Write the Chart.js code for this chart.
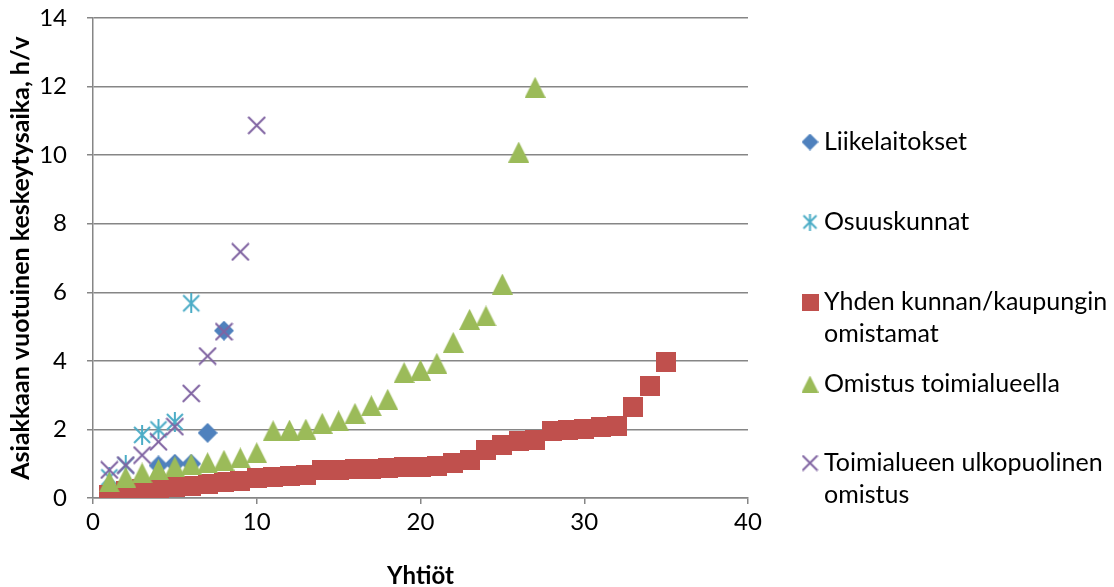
<!DOCTYPE html>
<html>
<head>
<meta charset="utf-8">
<script src="https://cdn.jsdelivr.net/npm/chart.js@4"></script>
<style>
  html, body { margin: 0; padding: 0; background: #fff; }
  #wrap { width: 1114px; height: 587px; position: relative; }
</style>
</head>
<body>
<div id="wrap"><canvas id="chart"></canvas></div>
<script>
// sarjojen nimet (selite)
const seriesNames = [
  'Liikelaitokset',
  'Osuuskunnat',
  'Yhden kunnan/kaupungin omistamat',
  'Omistus toimialueella',
  'Toimialueen ulkopuolinen omistus'
];

// akselit
const xTicks = [0, 10, 20, 30, 40];
const yTicks = [0, 2, 4, 6, 8, 10, 12, 14];

// Liikelaitokset
const liikeX = [4, 5, 6, 7, 8];
const liikeY = [0.95, 1.0, 1.0, 1.9, 4.88];

// Osuuskunnat
const osuusX = [1, 2, 3, 4, 5, 6];
const osuusY = [0.6, 0.95, 1.84, 2.0, 2.22, 5.68];

// Yhden kunnan/kaupungin omistamat
const kuntaY = [0.1, 0.2, 0.25, 0.28, 0.32, 0.36, 0.4, 0.48, 0.5, 0.58,
                0.62, 0.63, 0.67, 0.82, 0.83, 0.85, 0.86, 0.88, 0.9, 0.9,
                0.93, 1.02, 1.12, 1.4, 1.55, 1.66, 1.69, 1.95, 1.98, 2.0,
                2.07, 2.1, 2.65, 3.27, 3.96];

// Omistus toimialueella
const alueY = [0.47, 0.61, 0.73, 0.83, 0.91, 0.99, 1.03, 1.1, 1.17, 1.32,
               1.96, 1.98, 2.01, 2.18, 2.25, 2.47, 2.69, 2.88, 3.66, 3.73,
               3.93, 4.54, 5.21, 5.31, 6.24, 10.09, 11.98];

// Toimialueen ulkopuolinen omistus
const ulkoY = [0.82, 0.96, 1.25, 1.64, 2.08, 3.05, 4.14, 4.85, 7.18, 10.87];

const FONT = 'Lato, "Open Sans", sans-serif';
const GRID = '#868686';

// yhtiöt numeroidaan 1..n
const ranked = ys => ys.map((y, i) => ({ x: i + 1, y }));
const paired = (xs, ys) => xs.map((x, i) => ({ x, y: ys[i] }));

// Excel-tyyliset merkit pieninä canvaksina
function marker(kind, color, size) {
  const c = document.createElement('canvas');
  c.width = size; c.height = size;
  const g = c.getContext('2d');
  const m = size / 2;
  g.fillStyle = color;
  g.strokeStyle = color;
  g.lineWidth = 2;
  g.beginPath();
  if (kind === 'diamond') {
    g.moveTo(m, 0); g.lineTo(size, m); g.lineTo(m, size); g.lineTo(0, m);
    g.closePath(); g.fill();
  } else if (kind === 'square') {
    g.fillRect(0, 0, size, size);
  } else if (kind === 'triangle') {
    g.moveTo(m, 0); g.lineTo(size, size); g.lineTo(0, size);
    g.closePath(); g.fill();
  } else if (kind === 'x') {
    g.moveTo(1, 1); g.lineTo(size - 1, size - 1);
    g.moveTo(size - 1, 1); g.lineTo(1, size - 1);
    g.stroke();
  } else if (kind === 'asterisk') {
    g.moveTo(2, 2); g.lineTo(size - 2, size - 2);
    g.moveTo(size - 2, 2); g.lineTo(2, size - 2);
    g.moveTo(m, 0); g.lineTo(m, size);
    g.stroke();
  }
  return c;
}

const styles = [
  { kind: 'diamond',  color: '#4F81BD' },
  { kind: 'asterisk', color: '#4BACC6' },
  { kind: 'square',   color: '#C0504D' },
  { kind: 'triangle', color: '#9BBB59' },
  { kind: 'x',        color: '#8064A2' }
];

const chartMarkers = [
  marker('diamond', '#4F81BD', 20),
  marker('asterisk', '#4BACC6', 20),
  marker('square', '#C0504D', 20),
  marker('triangle', '#9BBB59', 21),
  marker('x', '#8064A2', 19)
];
const legendMarkers = styles.map(s => marker(s.kind, s.color, 17));

const dataSets = [
  paired(liikeX, liikeY),
  paired(osuusX, osuusY),
  ranked(kuntaY),
  ranked(alueY),
  ranked(ulkoY)
];

// oikean reunan selite, rivitys kuten alkuperäisessä
const sideLegend = {
  id: 'sideLegend',
  afterDraw(chart) {
    const ctx = chart.ctx;
    const rows = [
      { lines: ['Liikelaitokset'], y: 142 },
      { lines: ['Osuuskunnat'], y: 222 },
      { lines: ['Yhden kunnan/kaupungin', 'omistamat'], y: 302 },
      { lines: ['Omistus toimialueella'], y: 384 },
      { lines: ['Toimialueen ulkopuolinen', 'omistus'], y: 463 }
    ];
    ctx.save();
    ctx.font = '25px ' + FONT;
    ctx.fillStyle = '#000';
    ctx.textBaseline = 'middle';
    ctx.textAlign = 'left';
    rows.forEach((r, i) => {
      const m = legendMarkers[i];
      ctx.drawImage(m, 810 - m.width / 2, r.y - m.height / 2);
      r.lines.forEach((t, j) => ctx.fillText(t, 824, r.y + j * 32));
    });
    ctx.restore();
  }
};

new Chart(document.getElementById('chart'), {
  type: 'scatter',
  data: {
    datasets: dataSets.map((d, i) => ({
      label: seriesNames[i],
      data: d,
      pointStyle: chartMarkers[i],
      order: 5 - i
    }))
  },
  options: {
    responsive: true,
    maintainAspectRatio: false,
    animation: false,
    events: [],
    layout: { padding: { left: 0, top: 18, right: 366, bottom: -4 } },
    plugins: { legend: { display: false }, tooltip: { enabled: false } },
    scales: {
      x: {
        type: 'linear',
        min: xTicks[0],
        max: xTicks[xTicks.length - 1],
        afterBuildTicks: s => { s.ticks = xTicks.map(v => ({ value: v })); },
        afterFit: s => { s.height = 93; },
        ticks: { font: { family: FONT, size: 24 }, color: '#000', padding: 4 },
        grid: { drawOnChartArea: false, tickLength: 6, color: GRID, lineWidth: 1.5 },
        border: { color: GRID, width: 1.5 },
        title: {
          display: true, text: 'Yhtiöt', color: '#000',
          font: { family: FONT, size: 24, weight: 'bold' },
          padding: { top: 0, bottom: 0 }
        }
      },
      y: {
        type: 'linear',
        min: yTicks[0],
        max: yTicks[yTicks.length - 1],
        afterBuildTicks: s => { s.ticks = yTicks.map(v => ({ value: v })); },
        // leveys kiinteäksi, eikä tikkien väli kasvata ylä-/alareunaa
        afterFit: s => { s.width = 93; s.paddingTop = 0; s.paddingBottom = 0; },
        ticks: { font: { family: FONT, size: 24 }, color: '#000', padding: 20 },
        grid: { color: GRID, lineWidth: 1.5, tickLength: 6 },
        border: { color: GRID, width: 1.5 },
        title: {
          display: true, text: 'Asiakkaan vuotuinen keskeytysaika, h/v', color: '#000',
          font: { family: FONT, size: 25, weight: 'bold' },
          padding: { top: 6, bottom: 0 }
        }
      }
    }
  },
  plugins: [sideLegend]
});
</script>
</body>
</html>
